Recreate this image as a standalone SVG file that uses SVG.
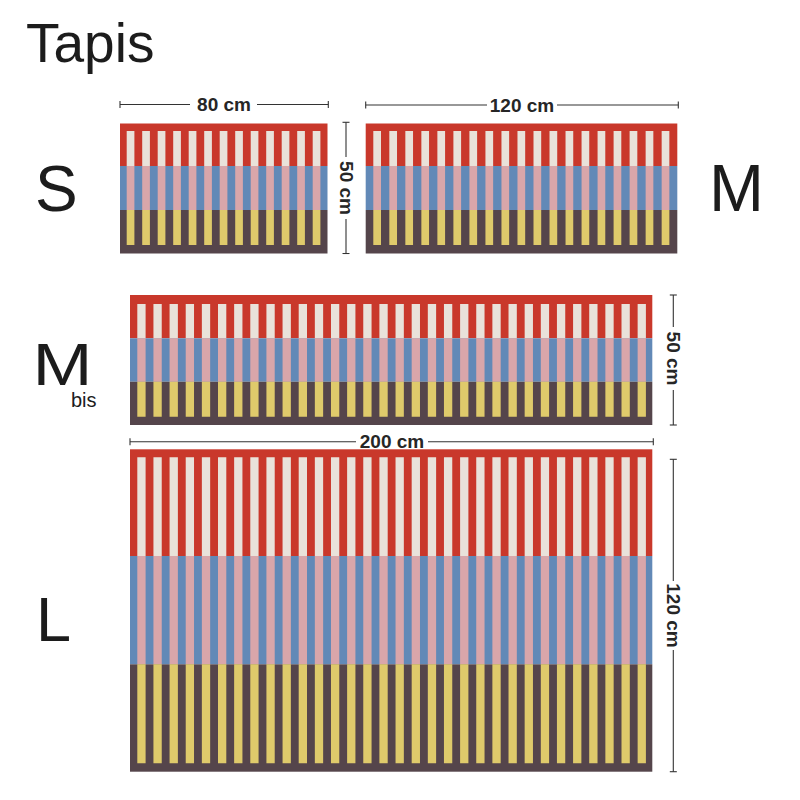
<svg xmlns="http://www.w3.org/2000/svg" width="800" height="800" viewBox="0 0 800 800">
  <style>
    .bg{fill:#ffffff}
    .red{fill:#c9382b}
    .blue{fill:#6289b7}
    .dark{fill:#55454b}
    .cream{stroke:#e9e2da;fill:none}
    .pink{stroke:#d9a6aa;fill:none}
    .yellow{stroke:#dfca6b;fill:none}
    .lbl{font-family:"Liberation Sans",Arial,sans-serif;fill:#1c1c1c}
    .dimt{font-family:"Liberation Sans",Arial,sans-serif;font-weight:bold;font-size:19px;fill:#262626;text-anchor:middle}
    .dim{stroke:#333333;stroke-width:1.1;fill:none}
  </style>
  <defs>
    <marker id="tick" viewBox="-1 -4 2 8" markerWidth="2" markerHeight="8" refX="0" refY="0" orient="auto" markerUnits="userSpaceOnUse">
      <path d="M0,-3.5 V3.5" stroke="#333333" stroke-width="1.1"/>
    </marker>
  </defs>
  <rect class="bg" x="0" y="0" width="800" height="800"/>

  <g id="labels">
    <text class="lbl" x="26" y="62" font-size="55">Tapis</text>
    <text class="lbl" x="35" y="210.5" font-size="64">S</text>
    <text class="lbl" x="709" y="211" font-size="66">M</text>
    <text class="lbl" x="0" y="0" font-size="60" transform="translate(32.5,385) scale(1.2,1)">M</text>
    <text class="lbl" x="71" y="407" font-size="20">bis</text>
    <text class="lbl" x="36" y="641" font-size="63">L</text>
  </g>

  <g id="rug-S">
    <rect class="red" x="120" y="123.5" width="207.5" height="42.5"/>
    <rect class="blue" x="120" y="166" width="207.5" height="44"/>
    <rect class="dark" x="120" y="210" width="207.5" height="43.5"/>
    <line class="cream" x1="126.7" y1="148.5" x2="320.4" y2="148.5" stroke-width="35" stroke-dasharray="7.7 7.8"/>
    <line class="pink" x1="126.7" y1="188" x2="320.4" y2="188" stroke-width="44" stroke-dasharray="7.7 7.8"/>
    <line class="yellow" x1="126.7" y1="227.5" x2="320.4" y2="227.5" stroke-width="35" stroke-dasharray="7.7 7.8"/>
  </g>

  <g id="rug-M">
    <rect class="red" x="365.7" y="123.5" width="311.6" height="42.5"/>
    <rect class="blue" x="365.7" y="166" width="311.6" height="44"/>
    <rect class="dark" x="365.7" y="210" width="311.6" height="43.5"/>
    <line class="cream" x1="373.3" y1="148.5" x2="669.4" y2="148.5" stroke-width="35" stroke-dasharray="7.7 8.32"/>
    <line class="pink" x1="373.3" y1="188" x2="669.4" y2="188" stroke-width="44" stroke-dasharray="7.7 8.32"/>
    <line class="yellow" x1="373.3" y1="227.5" x2="669.4" y2="227.5" stroke-width="35" stroke-dasharray="7.7 8.32"/>
  </g>

  <g id="rug-Mbis">
    <rect class="red" x="130" y="295" width="522.3" height="43.3"/>
    <rect class="blue" x="130" y="338.3" width="522.3" height="43.4"/>
    <rect class="dark" x="130" y="381.7" width="522.3" height="43.3"/>
    <line class="cream" x1="137.3" y1="321.15" x2="645.9" y2="321.15" stroke-width="34.3" stroke-dasharray="8.3 7.84"/>
    <line class="pink" x1="137.3" y1="360" x2="645.9" y2="360" stroke-width="43.4" stroke-dasharray="8.3 7.84"/>
    <line class="yellow" x1="137.3" y1="399.2" x2="645.9" y2="399.2" stroke-width="35" stroke-dasharray="8.3 7.84"/>
  </g>

  <g id="rug-L">
    <rect class="red" x="130" y="449.3" width="522.3" height="106.7"/>
    <rect class="blue" x="130" y="556" width="522.3" height="108.3"/>
    <rect class="dark" x="130" y="664.3" width="522.3" height="107.4"/>
    <line class="cream" x1="137.3" y1="506.65" x2="645.9" y2="506.65" stroke-width="98.7" stroke-dasharray="8.3 7.84"/>
    <line class="pink" x1="137.3" y1="610.15" x2="645.9" y2="610.15" stroke-width="108.3" stroke-dasharray="8.3 7.84"/>
    <line class="yellow" x1="137.3" y1="713.8" x2="645.9" y2="713.8" stroke-width="99" stroke-dasharray="8.3 7.84"/>
  </g>

  <g id="dimensions">
    <!-- 80 cm -->
    <line class="dim" x1="120" y1="104.5" x2="190" y2="104.5" marker-start="url(#tick)"/>
    <line class="dim" x1="257" y1="104.5" x2="328.3" y2="104.5" marker-end="url(#tick)"/>
    <text class="dimt" x="224" y="111">80 cm</text>
    <!-- 120 cm (M) -->
    <line class="dim" x1="365.7" y1="105" x2="487" y2="105" marker-start="url(#tick)"/>
    <line class="dim" x1="557" y1="105" x2="678.3" y2="105" marker-end="url(#tick)"/>
    <text class="dimt" x="522" y="111.5">120 cm</text>
    <!-- 50 cm (S/M) -->
    <line class="dim" x1="346" y1="122.3" x2="346" y2="157" marker-start="url(#tick)"/>
    <line class="dim" x1="346" y1="219" x2="346" y2="253.5" marker-end="url(#tick)"/>
    <text class="dimt" x="0" y="6.5" transform="translate(346,188) rotate(90)">50 cm</text>
    <!-- 50 cm (Mbis) -->
    <line class="dim" x1="673.3" y1="295" x2="673.3" y2="327" marker-start="url(#tick)"/>
    <line class="dim" x1="673.3" y1="390" x2="673.3" y2="425" marker-end="url(#tick)"/>
    <text class="dimt" x="0" y="6.5" transform="translate(673.3,358.5) rotate(90)">50 cm</text>
    <!-- 200 cm -->
    <line class="dim" x1="130" y1="441.7" x2="356" y2="441.7" marker-start="url(#tick)"/>
    <line class="dim" x1="428" y1="441.7" x2="653.3" y2="441.7" marker-end="url(#tick)"/>
    <text class="dimt" x="392" y="448.2">200 cm</text>
    <!-- 120 cm (L) -->
    <line class="dim" x1="673.3" y1="459.3" x2="673.3" y2="581" marker-start="url(#tick)"/>
    <line class="dim" x1="673.3" y1="650" x2="673.3" y2="771.7" marker-end="url(#tick)"/>
    <text class="dimt" x="0" y="6.5" transform="translate(673.3,615.5) rotate(90)">120 cm</text>
  </g>
</svg>
